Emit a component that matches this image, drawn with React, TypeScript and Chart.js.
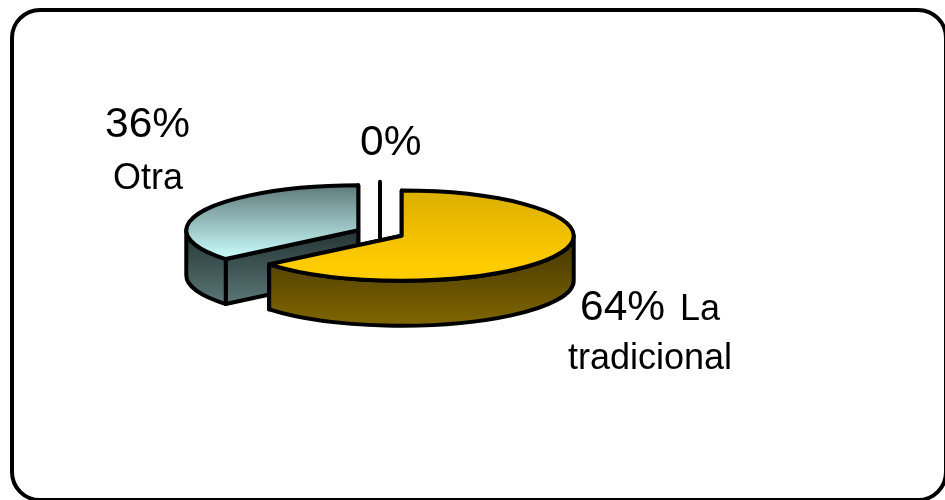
import React, { useEffect, useRef } from "react";
import { Chart, registerables } from "chart.js";

Chart.register(...registerables);

// Data
const categories = ["La tradicional", "Otra", ""];
const values = [64, 36, 0];

// Style
const topStops = [
  ["#dcae00", "#ffcc00"],
  ["#5f7a7a", "#ccffff"],
  ["#ffffff", "#ffffff"],
];
const wallStops = [
  ["#423400", "#806600"],
  ["#253333", "#668686"],
  ["#000000", "#000000"],
];
const SQUASH = 0.262;
const DEPTH = 45;
const SLICE_OFFSET = 24;
const LINE = 4;
const BIG = '42.5px "Liberation Sans", Arial, sans-serif';
const SMALL = '36px "Liberation Sans", Arial, sans-serif';

const pie3d = {
  id: "pie3d",
  beforeDatasetsDraw(chart: any) {
    const ctx: CanvasRenderingContext2D = chart.ctx;
    const arcs: any[] = chart.getDatasetMeta(0).data;
    ctx.save();
    ctx.lineWidth = LINE;
    ctx.lineJoin = "round";
    ctx.lineCap = "round";
    ctx.strokeStyle = "#000";

    const order = arcs.map((_, i) => i).reverse();
    for (const i of order) {
      const el = arcs[i];
      const { x, y, startAngle: a0, endAngle: a1, outerRadius: R } = el.getProps([
        "x",
        "y",
        "startAngle",
        "endAngle",
        "outerRadius",
      ]);
      const mid = (a0 + a1) / 2;
      const off = el.options.offset;
      const cx = x + Math.cos(mid) * off;
      const cy = y + Math.sin(mid) * off * SQUASH;
      const ry = R * SQUASH;
      const rim = (t: number) => [cx + R * Math.cos(t), cy + ry * Math.sin(t)];

      if (a1 - a0 <= 0) {
        const [rx0, ry0] = rim(a0);
        ctx.beginPath();
        ctx.moveTo(rx0, ry0);
        ctx.lineTo(cx, cy + DEPTH);
        ctx.stroke();
        continue;
      }

      const wallFill = ctx.createLinearGradient(0, cy, 0, cy + ry + DEPTH);
      wallFill.addColorStop(0, wallStops[i][0]);
      wallFill.addColorStop(1, wallStops[i][1]);

      // radial cut faces
      for (const t of [a1, a0]) {
        const [px, py] = rim(t);
        ctx.beginPath();
        ctx.moveTo(cx, cy);
        ctx.lineTo(px, py);
        ctx.lineTo(px, py + DEPTH);
        ctx.lineTo(cx, cy + DEPTH);
        ctx.closePath();
        ctx.fillStyle = wallFill;
        ctx.fill();
        ctx.stroke();
      }

      // outer wall, only the part that faces the viewer
      const w0 = Math.max(a0, 0);
      const w1 = Math.min(a1, Math.PI);
      if (w1 > w0) {
        ctx.beginPath();
        ctx.ellipse(cx, cy, R, ry, 0, w0, w1, false);
        ctx.ellipse(cx, cy + DEPTH, R, ry, 0, w1, w0, true);
        ctx.closePath();
        ctx.fillStyle = wallFill;
        ctx.fill();
        ctx.stroke();
      }

      // top face
      const topFill = ctx.createLinearGradient(0, cy - ry, 0, cy + ry * 0.65);
      topFill.addColorStop(0, topStops[i][0]);
      topFill.addColorStop(1, topStops[i][1]);
      ctx.beginPath();
      ctx.moveTo(cx, cy);
      ctx.ellipse(cx, cy, R, ry, 0, a0, a1, false);
      ctx.closePath();
      ctx.fillStyle = topFill;
      ctx.fill();
      ctx.stroke();
    }

    // labels
    ctx.fillStyle = "#000";
    ctx.textBaseline = "alphabetic";
    ctx.textAlign = "left";
    const pct = values.map((v) => `${v}%`);
    const [la, tradicional] = [categories[0].slice(0, 2), categories[0].slice(3)];
    const put = (s: string, font: string, px: number, py: number) => {
      ctx.font = font;
      ctx.fillText(s, px, py);
    };
    put(pct[0], BIG, 580, 320);
    put(la, SMALL, 680, 320);
    put(tradicional, SMALL, 568, 369);
    put(pct[1], BIG, 105, 137);
    put(categories[1], SMALL, 113, 189);
    put(pct[2], BIG, 360, 155);

    ctx.restore();
    return false;
  },
};

export default function App() {
  const ref = useRef<HTMLCanvasElement>(null);
  useEffect(() => {
    const chart = new Chart(ref.current as HTMLCanvasElement, {
      type: "pie",
      data: {
        labels: categories,
        datasets: [
          {
            data: values,
            backgroundColor: ["#ffcc00", "#ccffff", "#ffffff"],
            borderColor: "#000",
            offset: SLICE_OFFSET,
          },
        ],
      },
      options: {
        responsive: false,
        animation: false,
        radius: 172,
        layout: { padding: { left: 0, top: 0, right: 185, bottom: 34 } },
        plugins: { legend: { display: false }, tooltip: { enabled: false } },
      },
      plugins: [pie3d],
    } as any);
    return () => chart.destroy();
  }, []);
  return (
    <div style={{ position: "fixed", left: 0, top: 0, width: 945, height: 500, overflow: "hidden", background: "#fff" }}>
      <div
        style={{
          position: "absolute",
          left: 10,
          top: 8,
          width: 929.5,
          height: 486,
          border: "4.5px solid #000",
          borderRadius: 30,
          boxSizing: "content-box",
          background: "#fff",
        }}
      />
      <canvas ref={ref} width={945} height={500} style={{ position: "absolute", left: 0, top: 0 }} />
    </div>
  );
}
